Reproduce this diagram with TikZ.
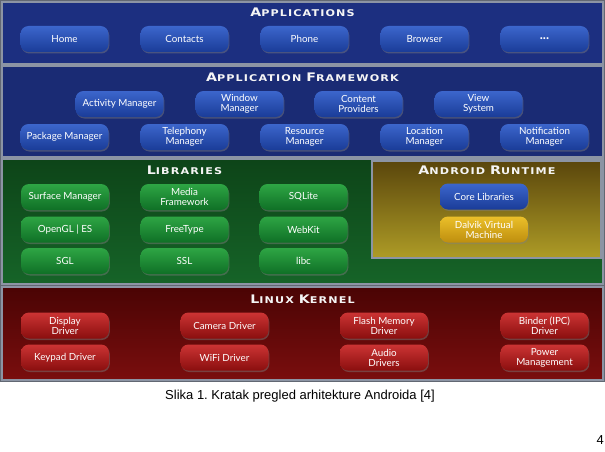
\documentclass[tikz,border=0pt]{standalone}
\usepackage{fontspec}
\setmainfont{Lato}
\newfontfamily\capfont[LetterSpace=12,FakeStretch=1.2]{DejaVu Sans Bold}
\newfontfamily\arialfont{Liberation Sans}
\usetikzlibrary{shadows}
\frenchspacing
\definecolor{appbg}{HTML}{1C2F80}
\definecolor{fwbg}{HTML}{1A2B74}
\definecolor{libbgtop}{HTML}{0D4418}
\definecolor{libbgbot}{HTML}{166428}
\definecolor{rtbgtop}{HTML}{5A460C}
\definecolor{rtbgbot}{HTML}{AE9C26}
\definecolor{kbgtop}{HTML}{4A0404}
\definecolor{kbgbot}{HTML}{7A0E0E}
\definecolor{bluetop}{HTML}{3C66CC}
\definecolor{bluebot}{HTML}{1A3C98}
\definecolor{greentop}{HTML}{2EA544}
\definecolor{greenbot}{HTML}{0F7026}
\definecolor{redtop}{HTML}{CC3434}
\definecolor{redbot}{HTML}{8A0E0E}
\definecolor{yeltop}{HTML}{EBC02A}
\definecolor{yelbot}{HTML}{BE8E0E}
\definecolor{frame}{HTML}{8C94A4}
\newcommand{\sctitle}[1]{{\capfont\fontsize{9.3}{9.5}\selectfont #1}}
\newcommand{\bigc}[1]{{\fontsize{11.8}{12}\selectfont #1}}
\tikzset{
  panel/.style={draw=frame, line width=1.6pt},
  btn/.style={rounded corners=8pt, minimum width=88pt, minimum height=26pt,
     inner sep=0pt, text=white, align=center,
     font=\fontsize{9.8}{9.9}\selectfont,
     drop shadow={shadow xshift=0.8pt, shadow yshift=-1.5pt, opacity=0.45}},
  bluebtn/.style={btn, top color=bluetop, bottom color=bluebot},
  greenbtn/.style={btn, top color=greentop, bottom color=greenbot},
  redbtn/.style={btn, top color=redtop, bottom color=redbot},
  yelbtn/.style={btn, top color=yeltop, bottom color=yelbot},
  ptitle/.style={text=white!92!gray, inner sep=0pt}
}
\begin{document}
\begin{tikzpicture}[x=1pt,y=-1pt]
\useasboundingbox (0,0) rectangle (605,452);
\fill[white] (0,0) rectangle (605,452);
\fill[frame!70!black] (0,0) rectangle (605,382);
% panels
\draw[panel, fill=appbg] (2,2) rectangle (603,64);
\draw[panel, fill=fwbg] (2,66) rectangle (603,157);
\draw[panel, top color=libbgtop, bottom color=libbgbot] (2,159) rectangle (603,284);
\draw[panel, top color=rtbgtop, bottom color=rtbgbot] (372,161) rectangle (601,258);
\draw[panel, top color=kbgtop, bottom color=kbgbot] (2,287) rectangle (603,380);
% titles
\node[ptitle] (tapp) at (302.5,12.5) {\sctitle{\bigc{A}PPLICATIONS}};
\node[ptitle] (tfw) at (302.5,77) {\sctitle{\bigc{A}PPLICATION \bigc{F}RAMEWORK}};
\node[ptitle] (tlib) at (184.5,170) {\sctitle{\bigc{L}IBRARIES}};
\node[ptitle] (trt) at (487,170) {\sctitle{\bigc{A}NDROID \bigc{R}UNTIME}};
\node[ptitle] (tk) at (302.5,299) {\sctitle{\bigc{L}INUX \bigc{K}ERNEL}};
% applications
\node[bluebtn] (home) at (64.5,39) {Home};
\node[bluebtn] (contacts) at (184.5,39) {Contacts};
\node[bluebtn] (phone) at (304.5,39) {Phone};
\node[bluebtn] (browser) at (424.5,39) {Browser};
\node[bluebtn, font=\fontsize{13}{13}\selectfont] (more) at (544.5,39) {\textbf{...}};
% framework
\node[bluebtn] (actm) at (119.5,104) {Activity Manager};
\node[bluebtn] (winm) at (239.5,104) {Window\\Manager};
\node[bluebtn] (cprov) at (358.5,104) {Content\\Providers};
\node[bluebtn] (vsys) at (478.5,104) {View\\System};
\node[bluebtn] (pkgm) at (64.5,137) {Package Manager};
\node[bluebtn] (telm) at (184.5,137) {Telephony\\Manager};
\node[bluebtn] (resm) at (304.5,137) {Resource\\Manager};
\node[bluebtn] (locm) at (424.5,137) {Location\\Manager};
\node[bluebtn] (notm) at (544.5,137) {Notification\\Manager};
% libraries
\node[greenbtn] (surf) at (65,197) {Surface Manager};
\node[greenbtn] (media) at (184.5,197) {Media\\Framework};
\node[greenbtn] (sqlite) at (303.5,197) {SQLite};
\node[greenbtn] (opengl) at (65,229.5) {OpenGL | ES};
\node[greenbtn] (ftype) at (184.5,229.5) {FreeType};
\node[greenbtn] (webkit) at (303.5,229.5) {WebKit};
\node[greenbtn] (sgl) at (65,261) {SGL};
\node[greenbtn] (ssl) at (184.5,261) {SSL};
\node[greenbtn] (libc) at (303.5,261) {libc};
% runtime
\node[bluebtn] (core) at (484,196.5) {Core Libraries};
\node[yelbtn] (dalvik) at (484,229.5) {Dalvik Virtual\\Machine};
% kernel
\node[redbtn] (disp) at (65,325.5) {Display\\Driver};
\node[redbtn] (cam) at (224.5,325.5) {Camera Driver};
\node[redbtn] (flash) at (384,325.5) {Flash Memory\\Driver};
\node[redbtn] (binder) at (544.5,325.5) {Binder (IPC)\\Driver};
\node[redbtn] (keyp) at (65,357.5) {Keypad Driver};
\node[redbtn] (wifi) at (224.5,357.5) {WiFi Driver};
\node[redbtn] (audio) at (384,357.5) {Audio\\Drivers};
\node[redbtn] (power) at (544.5,357.5) {Power\\Management};
% caption
\node[inner sep=0pt, font=\arialfont\fontsize{13}{13}\selectfont] (cap) at (300,396) {Slika 1. Kratak pregled arhitekture Androida [4]};
\node[inner sep=0pt, anchor=east, font=\arialfont\fontsize{13}{13}\selectfont] (pnum) at (604,440) {4};
\end{tikzpicture}
\end{document}
